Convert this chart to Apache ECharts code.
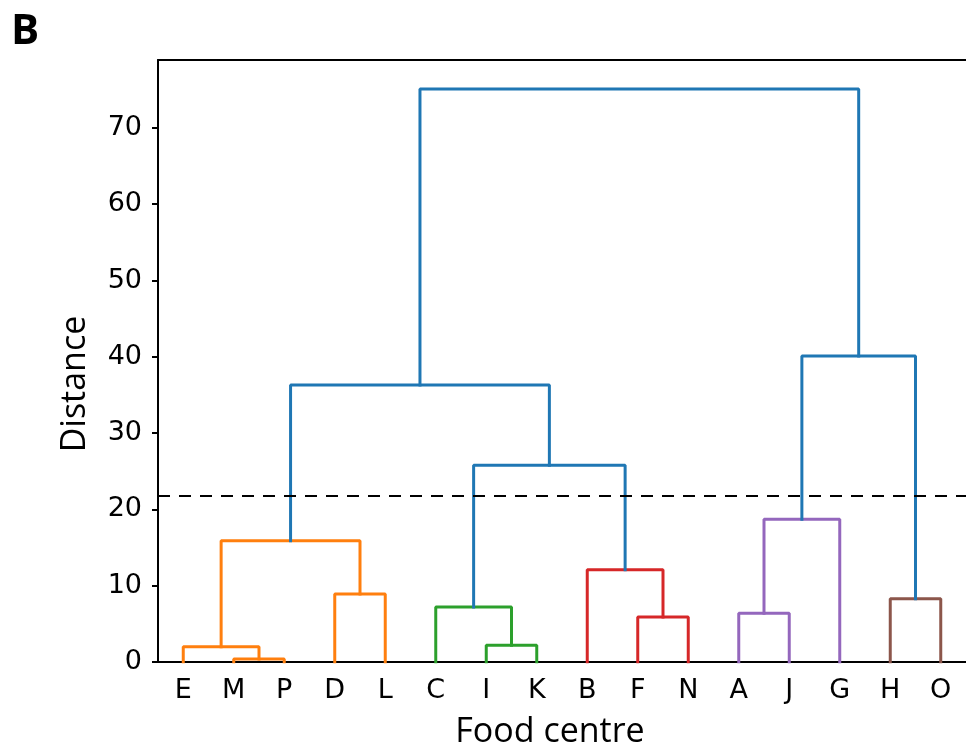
<!DOCTYPE html>
<html>
<head>
<meta charset="utf-8">
<script src="https://cdn.jsdelivr.net/npm/echarts@6/dist/echarts.min.js"></script>
<style>
  html, body { margin: 0; padding: 0; background: #ffffff; }
  #chart { width: 966px; height: 749px; }
</style>
</head>
<body>
<div id="chart"></div>
<script>
// 叶子顺序 (food centres)
var leaves = ["E", "M", "P", "D", "L", "C", "I", "K", "B", "F", "N", "A", "J", "G", "H", "O"];

// merges, scipy style: node 16 + k is created by merge k
var mergeLeft   = [1, 0, 3, 17, 6, 5, 9, 8, 21, 19, 11, 26, 14, 27, 25];
var mergeRight  = [2, 16, 4, 18, 7, 20, 10, 22, 23, 24, 12, 13, 15, 28, 29];
var mergeHeight = [0.4, 2.0, 8.9, 15.9, 2.2, 7.2, 5.9, 12.1, 25.8, 36.3, 6.4, 18.7, 8.3, 40.1, 75.1];
var mergeColor  = ["C1", "C1", "C1", "C1", "C2", "C2", "C3", "C3", "C0", "C0", "C4", "C4", "C5", "C0", "C0"];

var cutHeight = 21.8;
var yTicks = [0, 10, 20, 30, 40, 50, 60, 70];

var palette = {
  C0: "#1f77b4", C1: "#ff7f0e", C2: "#2ca02c",
  C3: "#d62728", C4: "#9467bd", C5: "#8c564b"
};

// node positions
var nodeX = [];
var nodeY = [];
for (var i = 0; i < leaves.length; i++) {
  nodeX.push(5 + 10 * i);
  nodeY.push(0);
}
var series = [];
for (var m = 0; m < mergeHeight.length; m++) {
  var a = mergeLeft[m], b = mergeRight[m], h = mergeHeight[m];
  series.push({
    type: "line",
    xAxisIndex: 1,
    data: [[nodeX[a], nodeY[a]], [nodeX[a], h], [nodeX[b], h], [nodeX[b], nodeY[b]]],
    symbol: "none",
    silent: true,
    animation: false,
    lineStyle: { color: palette[mergeColor[m]], width: 3, cap: "square" },
    z: 3
  });
  nodeX.push((nodeX[a] + nodeX[b]) / 2);
  nodeY.push(h);
}
// 虚线 cut line
series.push({
  type: "line",
  xAxisIndex: 1,
  data: [],
  symbol: "none",
  animation: false,
  markLine: {
    silent: true,
    symbol: "none",
    label: { show: false },
    lineStyle: { color: "#000000", type: [12, 9], width: 2 },
    data: [{ yAxis: cutHeight }]
  }
});

var myChart = echarts.init(document.getElementById("chart"));
myChart.setOption({
  animation: false,
  grid: { left: 158, top: 60, width: 808, height: 602, containLabel: false, outerBoundsMode: "none" },
  title: {
    text: "B",
    left: 6,
    top: 6,
    textStyle: { fontFamily: "Open Sans", fontWeight: "bold", fontSize: 42, color: "#000" }
  },
  graphic: [
    {
      type: "text",
      x: 550,
      y: 732,
      style: {
        text: "Food centre",
        fontFamily: "Open Sans", fontSize: 34, fill: "#000",
        textAlign: "center", textVerticalAlign: "middle"
      }
    },
    {
      type: "text",
      x: 75,
      y: 384,
      rotation: Math.PI / 2,
      style: {
        text: "Distance",
        fontFamily: "Open Sans", fontSize: 34, fill: "#000",
        textAlign: "center", textVerticalAlign: "middle"
      }
    }
  ],
  xAxis: [
    {
      type: "category",
      data: leaves,
      position: "bottom",
      axisLine: { show: true, lineStyle: { color: "#000", width: 2 } },
      axisTick: { show: false },
      axisLabel: { fontFamily: "DejaVu Sans", fontSize: 27, color: "#000", margin: 15 },
      splitLine: { show: false }
    },
    {
      type: "value",
      min: 0,
      max: 160,
      position: "top",
      axisLine: { show: true, onZero: false, lineStyle: { color: "#000", width: 2 } },
      axisTick: { show: false },
      axisLabel: { show: false },
      splitLine: { show: false }
    }
  ],
  yAxis: {
    type: "value",
    min: 0,
    max: 78.9,
    interval: 10,
    axisLine: { show: true, lineStyle: { color: "#000", width: 2 } },
    axisTick: { show: true, length: 6, lineStyle: { color: "#000", width: 2 } },
    axisLabel: {
      fontFamily: "DejaVu Sans", fontSize: 27, color: "#000", margin: 16,
      showMaxLabel: false,
      formatter: function (v) { return yTicks.indexOf(v) >= 0 ? String(v) : ""; }
    },
    splitLine: { show: false }
  },
  series: series
});
</script>
</body>
</html>
